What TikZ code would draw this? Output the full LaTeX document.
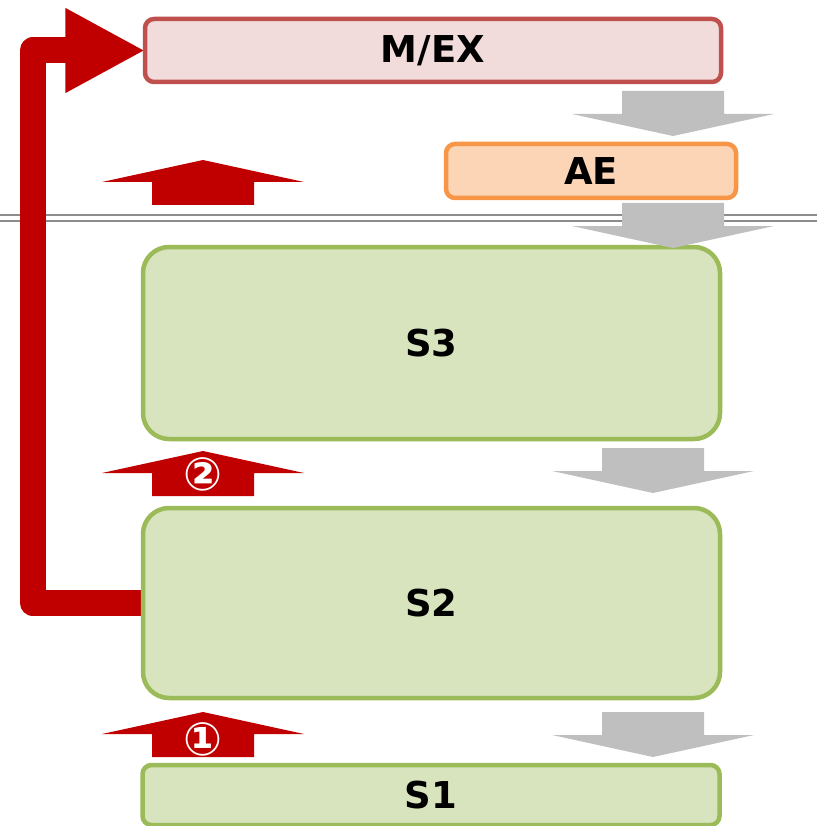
\documentclass[tikz,border=0pt]{standalone}
\usepackage{fontspec}
\setmainfont{DejaVu Sans}
\usetikzlibrary{arrows.meta,backgrounds}

\definecolor{mexfill}{HTML}{F2DCDB}
\definecolor{mexline}{HTML}{C0504D}
\definecolor{aefill}{HTML}{FBD5B5}
\definecolor{aeline}{HTML}{F79646}
\definecolor{sfill}{HTML}{D7E4BD}
\definecolor{sline}{HTML}{9BBB59}
\definecolor{upred}{HTML}{C00000}
\definecolor{downgray}{HTML}{BFBFBF}
\definecolor{sepgray}{HTML}{8C8C8C}

\tikzset{
	box/.style={rounded corners=9pt,line width=4.5pt,minimum width=#1,
		font=\fontsize{37}{44}\selectfont\bfseries,inner sep=0pt},
	mexbox/.style={box=576pt,draw=mexline,fill=mexfill,minimum height=63pt},
	aebox/.style={box=290pt,draw=aeline,fill=aefill,minimum height=54pt},
	layer/.style={box=577pt,draw=sline,fill=sfill,rounded corners=26pt},
	stepno/.style={text=white,font=\fontsize{46}{50}\selectfont\bfseries,inner sep=0pt},
	pics/upblock/.style={code={
		\fill[upred] (0,0) -- (101,22) -- (51,22) -- (51,45)
			-- (-51,45) -- (-51,22) -- (-101,22) -- cycle;
	}},
	pics/downblock/.style={code={
		\fill[downgray] (0,0) -- (101,-22) -- (51,-22) -- (51,-45)
			-- (-51,-45) -- (-51,-22) -- (-101,-22) -- cycle;
	}}
}

\begin{document}
\begin{tikzpicture}[x=1pt,y=-1pt]
	\clip (0,0) rectangle (817,826);

	% the stack
	\node[mexbox] (mex) at (433,50.5) {M/EX};
	\node[aebox] (ae) at (591,171) {AE};
	\node[layer,minimum height=192pt] (s3) at (431.5,343) {S3};
	\node[layer,minimum height=190pt] (s2) at (431.5,603) {S2};
	\node[layer,minimum height=60pt,rounded corners=9pt] (s1) at (431,795) {S1};

	\begin{scope}[on background layer]
		% separator
		\draw[sepgray,line width=2.5pt,double=white,double distance=3.5pt] (0,218) -- (817,218);
		% bypass from S2 straight up to M/EX
		\draw[upred,line width=26pt,line join=round,-{Triangle[length=80pt,width=79pt]}]
			(s2.west) -- ++(-108,0) |- ([xshift=2.5pt]mex.west);
	\end{scope}

	% flow downwards
	\pic at (673,136) {downblock};
	\pic at (673,248) {downblock};
	\pic at (653,493) {downblock};
	\pic at (653,757) {downblock};

	% flow upwards
	\pic at (203,160) {upblock};
	\pic at (203,451) {upblock};
	\pic at (203,712) {upblock};
	\node[stepno] (two) at (203,474) {②};
	\node[stepno] (one) at (203,739) {①};
\end{tikzpicture}
\end{document}
